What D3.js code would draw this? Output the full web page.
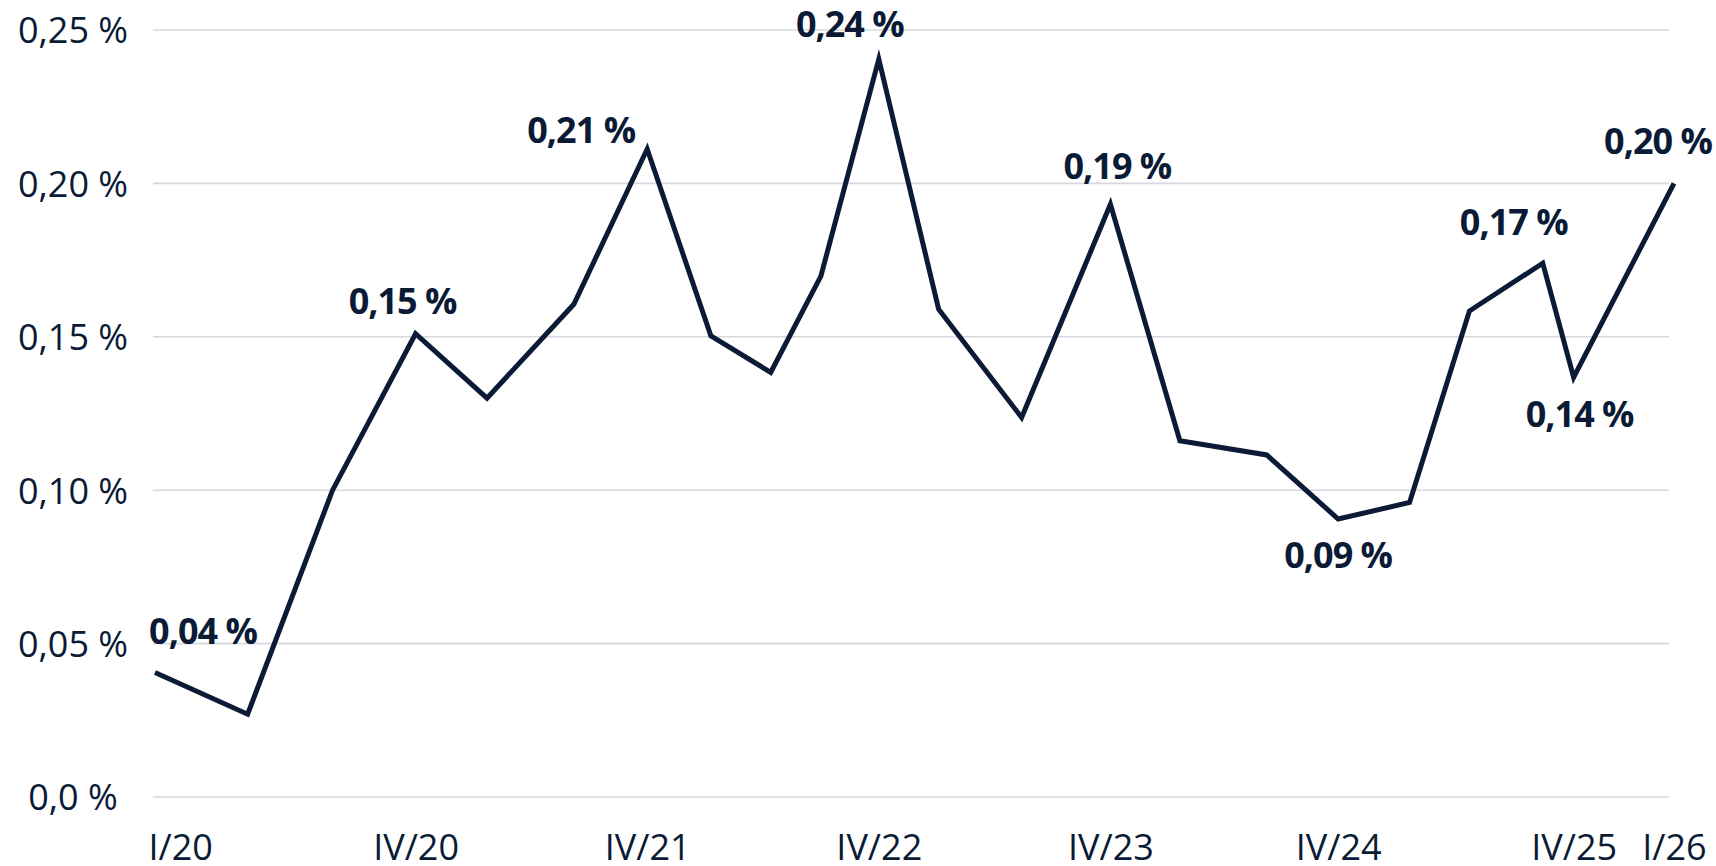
<!DOCTYPE html>
<html><head>
<meta charset="utf-8">
<title>Quote</title>
<script src="https://d3js.org/d3.v7.min.js"></script>
<style>
  body { margin: 0; background: #fff; }
  svg { display: block; }
  .ytick text, .xtick text { font-family: "Open Sans", sans-serif; font-size: 36px; fill: #0b1b35; }
  .wert { font-family: "Open Sans", sans-serif; font-size: 36px; font-weight: 700; fill: #0b1b35; letter-spacing: -1px; }
</style>
</head>
<body>
<svg id="chart" width="1716" height="866"></svg>

<script>
// position on the time axis (months after I/20)
let zeit = [0, 4.8, 9.2, 13.5, 17.2, 21.7, 25.5, 28.8, 31.9, 34.5, 37.5,
            40.6, 44.9, 49.5, 53.1, 57.6, 61.3, 65.0, 68.1, 71.9, 73.5, 78.7];
// values in percent
let werte = [0.0406, 0.027, 0.100, 0.151, 0.130, 0.1606, 0.2112, 0.1503, 0.1384, 0.1698, 0.2405,
             0.159, 0.1237, 0.1932, 0.1161, 0.1115, 0.0906, 0.096, 0.1584, 0.174, 0.1368, 0.200];

// which points carry a value label
let beschriftet = [0, 3, 6, 10, 13, 16, 19, 20, 21];

// x axis: labels sit on these points
let xTickIndex = [0, 3, 6, 10, 13, 16, 20, 21];
let xTickLabels = ["I/20", "IV/20", "IV/21", "IV/22", "IV/23", "IV/24", "IV/25", "I/26"];

let yTicks = [0, 0.05, 0.10, 0.15, 0.20, 0.25];
let yTickLabels = ["0,0 %", "0,05 %", "0,10 %", "0,15 %", "0,20 %", "0,25 %"];

// label nudges (dx, dy from the point), the original places them by hand
let labelNudge = {
  0: [48, -28], 3: [-13, -20], 6: [-66, -6], 10: [-29, -22], 13: [7, -25],
  16: [0, 49], 19: [-29, -28], 20: [6, 50], 21: [-16, -29]
};

let svg = d3.select("#chart");
let col = "#0b1b35";

let x = d3.scaleLinear().domain([0, 78.7]).range([155, 1674]);
let y = d3.scaleLinear().domain([0, 0.25]).range([797, 30]);

// grid lines
svg.append("g")
  .selectAll("line")
  .data(yTicks)
  .join("line")
    .attr("x1", 153)
    .attr("x2", 1669)
    .attr("y1", d => y(d))
    .attr("y2", d => y(d))
    .attr("stroke", "#d7d8df")
    .attr("stroke-width", 1.6);

// y axis labels
let yAxis = svg.append("g")
  .attr("class", "ytick")
  .attr("transform", "translate(73,0)")
  .call(d3.axisLeft(y).tickValues(yTicks).tickSize(0).tickPadding(0)
    .tickFormat((d, i) => yTickLabels[i]));
yAxis.select(".domain").remove();
yAxis.selectAll("text").attr("text-anchor", "middle").attr("dy", "0.36em");

// x axis labels
let xAxis = svg.append("g")
  .attr("class", "xtick")
  .attr("transform", "translate(0,833)")
  .call(d3.axisBottom(x).tickValues(xTickIndex.map(i => zeit[i])).tickSize(0).tickPadding(0)
    .tickFormat((d, i) => xTickLabels[i]));
xAxis.select(".domain").remove();
xAxis.selectAll("text").attr("dy", "0.74em");
xAxis.selectAll("text").filter((d, i) => i == 0).attr("text-anchor", "start").attr("dx", -7);

// the line
let line = d3.line()
  .x((d, i) => x(zeit[i]))
  .y(d => y(d));

svg.append("path")
  .datum(werte)
  .attr("d", line)
  .attr("fill", "none")
  .attr("stroke", col)
  .attr("stroke-width", 5)
  .attr("stroke-linejoin", "miter")
  .attr("stroke-miterlimit", 10);

// value labels
svg.append("g")
  .selectAll("text")
  .data(beschriftet)
  .join("text")
    .attr("class", "wert")
    .attr("text-anchor", "middle")
    .attr("x", i => x(zeit[i]) + labelNudge[i][0])
    .attr("y", i => y(werte[i]) + labelNudge[i][1])
    .text(i => d3.format(".2f")(werte[i]).replace(".", ",") + " %");
</script>
</body>
</html>
